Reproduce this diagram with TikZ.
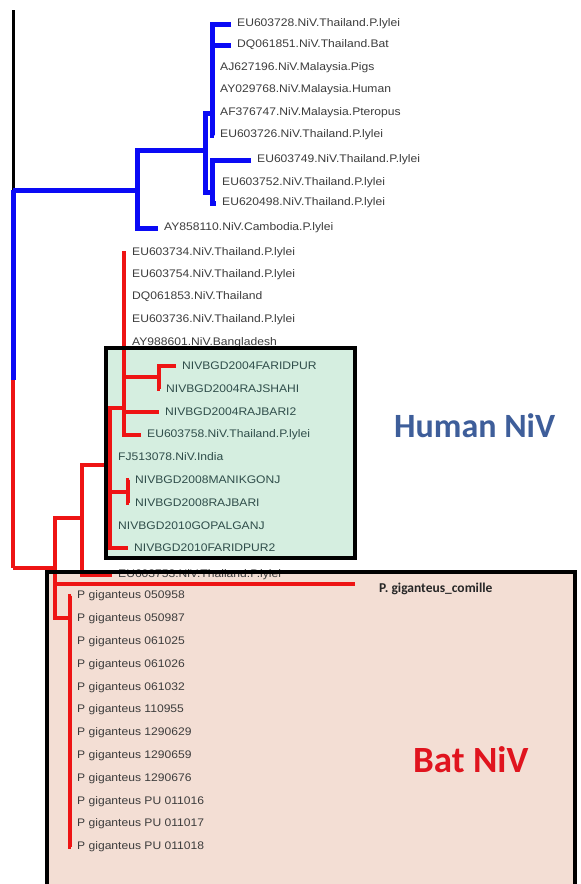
\documentclass[tikz,border=0pt]{standalone}
\usepackage{fontspec}
\setmainfont{Liberation Sans}
\newfontfamily\leaffamily[FakeStretch=1.1]{Liberation Sans}
\newfontfamily\cladefamily{Carlito}
\usetikzlibrary{positioning}
\definecolor{treeblue}{HTML}{0A0AF5}
\definecolor{treered}{HTML}{EE1414}
\definecolor{humanfill}{HTML}{D5EEE0}
\definecolor{batfill}{HTML}{F3DED4}
\definecolor{humanblue}{HTML}{3E5E9A}
\definecolor{batred}{HTML}{E0141E}
\definecolor{leafgray}{HTML}{3C3C3C}
\definecolor{bgdteal}{HTML}{2F4D4A}

\begin{document}
\begin{tikzpicture}[x=1pt, y=-1pt,
  every node/.style={font=\leaffamily\fontsize{11}{13}\selectfont},
  leaf/.style={anchor=west, inner xsep=6pt, inner ysep=1pt, text=leafgray},
  bgd/.style={leaf, text=bgdteal},
  comille/.style={anchor=west, inner sep=0pt, text=black!85, font=\cladefamily\bfseries\fontsize{13.5}{15}\selectfont},
  blueline/.style={draw=treeblue, line width=5pt},
  redline/.style={draw=treered, line width=4pt},
  rootline/.style={draw=black, line width=3pt},
  cladebox/.style={draw=black, line width=4pt},
  cladename/.style={inner sep=0pt, anchor=west, font=\cladefamily\bfseries\fontsize{34}{38}\selectfont}
]
\useasboundingbox (0,0) rectangle (581,884);
\clip (0,0) rectangle (581,884);
\fill[white] (0,0) rectangle (581,884);

% shaded groups
\fill[humanfill] (106,348) rectangle (355,558);
\fill[batfill] (47,572) rectangle (575,890);

% root
\coordinate (top) at (13,10);
\coordinate (root) at (13,190);
\coordinate (rmid) at (13,380);
\coordinate (r1) at (13,568);
\draw[rootline] (top) -- (root);
\draw[blueline] (root) -- (rmid);
\draw[redline] (rmid) -- (r1);

% blue clade
\coordinate (b1) at (137,190);
\coordinate (b2) at (205,150);
\coordinate (b3) at (212,113);
\coordinate (b4) at (212,192);
\node[leaf] (l1) at (231,24) {EU603728.NiV.Thailand.P.lylei};
\node[leaf] (l2) at (231,45) {DQ061851.NiV.Thailand.Bat};
\node[leaf] (l3) at (214,68) {AJ627196.NiV.Malaysia.Pigs};
\node[leaf] (l4) at (214,90) {AY029768.NiV.Malaysia.Human};
\node[leaf] (l5) at (214,113) {AF376747.NiV.Malaysia.Pteropus};
\node[leaf] (l6) at (214,135) {EU603726.NiV.Thailand.P.lylei};
\node[leaf] (l7) at (251,160) {EU603749.NiV.Thailand.P.lylei};
\node[leaf] (l8) at (216,183) {EU603752.NiV.Thailand.P.lylei};
\node[leaf] (l9) at (216,203) {EU620498.NiV.Thailand.P.lylei};
\node[leaf] (l10) at (158,228) {AY858110.NiV.Cambodia.P.lylei};
\draw[blueline] (root) -- (b1) |- (l10.west);
\draw[blueline] (b1) |- (b2);
\draw[blueline] (b3) -| (b2) |- (b4);
\draw[blueline] (l1.west) -| (b3) |- (l6.west);
\draw[blueline] (b3) |- (l2.west);
\draw[blueline] (l7.west) -| (b4) |- (l9.west);

% red clade
\coordinate (n1) at (55,568);
\coordinate (n2) at (82,518);
\coordinate (n3) at (110,465);
\coordinate (n4) at (124,408);
\coordinate (n5) at (159,377);
\coordinate (n6) at (128,492);
\coordinate (n7) at (70,618);
\node[leaf] (m1) at (126,253) {EU603734.NiV.Thailand.P.lylei};
\node[leaf] (m2) at (126,275) {EU603754.NiV.Thailand.P.lylei};
\node[leaf] (m3) at (126,297) {DQ061853.NiV.Thailand};
\node[leaf] (m4) at (126,320) {EU603736.NiV.Thailand.P.lylei};
\node[leaf] (m5) at (126,343) {AY988601.NiV.Bangladesh};
\node[bgd] (m6) at (176,366) {NIVBGD2004FARIDPUR};
\node[bgd] (m7) at (160,389) {NIVBGD2004RAJSHAHI};
\node[bgd] (m8) at (159,412) {NIVBGD2004RAJBARI2};
\node[bgd] (m9) at (141,435) {EU603758.NiV.Thailand.P.lylei};
\node[bgd] (m10) at (112,457) {FJ513078.NiV.India};
\node[bgd] (m11) at (129,480) {NIVBGD2008MANIKGONJ};
\node[bgd] (m12) at (129,503) {NIVBGD2008RAJBARI};
\node[bgd] (m13) at (112,526) {NIVBGD2010GOPALGANJ};
\node[bgd] (m14) at (128,548) {NIVBGD2010FARIDPUR2};
\node[leaf] (m15) at (112,575) {EU603753.NiV.Thailand.P.lylei};
\draw[redline] (r1) -- (n1);
\draw[redline] (n2) -| (n1) |- (n7);
\draw[redline] (n3) -| (n2) |- (m15.west);
\draw[redline] (n4) -| (n3) |- (m14.west);
\draw[redline] (n3) |- (n6) |- (m11.west);
\draw[redline] (n6) |- (m12.west);
\draw[redline] (m1.west) -| (n4) |- (m9.west);
\draw[redline] (n4) |- (n5);
\draw[redline] (n4) |- (m8.west);
\draw[redline] (m6.west) -| (n5) |- (m7.west);

% bat clade
\coordinate (t16) at (355,584);
\draw[redline] (n1) |- (t16);
\node[comille, right=24pt of t16, yshift=-5pt] (m16) {P. giganteus\_comille};
\foreach \lab [count=\i] in {050958,050987,061025,061026,061032,110955,1290629,1290659,1290676,PU 011016,PU 011017,PU 011018} {
  \node[leaf] (g\i) at (71,{596+22.8*(\i-1)}) {P giganteus \lab};
}
\draw[redline] (g1.west) -| (n7) |- (g12.west);

% group frames and names
\draw[cladebox] (106,348) rectangle (355,558);
\draw[cladebox] (47,890) |- (575,572) -- (575,890);
\node[cladename, text=humanblue] (human) at (394,426) {Human NiV};
\node[cladename, text=batred, font=\cladefamily\bfseries\fontsize{37}{40}\selectfont] (bat) at (413,760) {Bat NiV};
\end{tikzpicture}
\end{document}
